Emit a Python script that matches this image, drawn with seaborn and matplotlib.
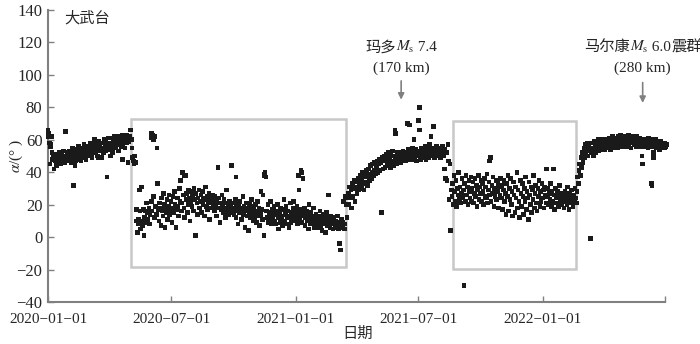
import numpy as np
import pandas as pd
import matplotlib
matplotlib.use("Agg")
import matplotlib.pyplot as plt
import matplotlib.dates as mdates
from matplotlib.patches import Rectangle
from matplotlib.offsetbox import TextArea, HPacker, AnnotationBbox
import seaborn as sns

# daily alpha values (degrees), segment by segment
seg_a_start = "2020-01-01"
seg_a = [66, 64, 58, 45, 56, 62, 52, 48, 50, 42, 49, 47, 51, 44, 50, 48, 46, 52, 49, 45, 51, 48, 47, 53, 50, 46, 65, 49, 52, 48, 50,
         47, 53, 49, 46, 51, 55, 48, 32, 52, 50, 47, 54, 49, 51, 56, 48, 53, 50, 47, 55, 52, 49, 57, 51, 54, 48, 53, 56, 50,
         55, 52, 58, 51, 54, 49, 57, 53, 56, 60, 52, 55, 58, 50, 56, 59, 53, 57, 54, 49, 58, 55, 52, 60, 56, 53, 59, 37, 57, 61, 54,
         58, 55, 61, 57, 52, 60, 56, 62, 58, 55, 61, 57, 59, 53, 62, 58, 60, 56, 61, 63, 57, 59, 62, 55, 60, 58, 63, 46, 61, 59]

seg_b_start = "2020-05-01"
seg_b = [62, 66, 60, 55, 49, 47, 45, 50, 46, 10, 17, 3, 8, 11, 29, 16, 5, 31, 10, 7, 17, 1, 12, 16, 9, 21, 15, 11, 18, 8, 14,
         61, 22, 16, 63, 25, 12, 62, 19, 14, 55, 33, 17, 10, 21, 18, 7, 24, 16, 13, 27, 20, 6, 18, 15, 23, 11, 19, 26, 14, 17,
         22, 9, 18, 25, 15, 28, 20, 6, 17, 24, 19, 13, 30, 22, 35, 16, 21, 40, 26, 18, 12, 38, 23, 27, 15, 20, 29, 24, 10, 22, 28,
         19, 25, 16, 30, 23, 1, 27, 21, 14, 24, 29, 18, 22, 26, 15, 28, 20, 24, 13, 23, 31, 19, 25, 17, 22, 27, 11, 21, 24, 18, 26,
         20, 23, 16, 25, 19, 13, 22, 43, 18, 24, 9, 21, 17, 26, 20, 15, 23, 18, 12, 21, 29, 17, 19, 14, 22, 16, 20, 44, 18, 15,
         21, 14, 17, 23, 12, 19, 16, 8, 20, 15, 22, 18, 11, 17, 25, 14, 19, 6, 16, 21, 13, 18, 4, 15, 20, 12, 17, 23, 14, 10, 19,
         16, 12, 20, 9, 15, 22, 13, 18, 7, 14, 28, 17, 11, 26, 1, 38, 40, 37, 16, 12, 20, 9, 15, 13, 22, 8, 17, 11, 14, 19,
         10, 16, 8, 14, 20, 12, 5, 15, 9, 18, 11, 13, 7, 17, 23, 10, 14, 19, 8, 12, 16, 6, 13, 21, 9, 15, 11, 18, 22, 14, 10,
         16, 12, 19, 8, 14, 29, 11, 17, 41, 9, 15, 36, 13, 18, 7, 12, 16, 10, 14, 5, 20, 11, 8, 15, 13, 9, 18, 6, 12, 10, 14,
         8, 11, 6, 13, 9, 16, 7, 12, 4, 10, 14, 8, 11, 3, 9, 15, 7, 12, 26, 10, 6, 13, 8, 11, 5, 9, 12, 7,
         10, 6, 8, 13, 5, 9, -4, -8, 7, 11, 6, 9, 22, 5, 8, 25, 20, 12, 24]

seg_c_start = "2021-03-20"
seg_c = [27, 20, 31, 24, 29, 18, 33, 25, 30, 35, 22, 31,
         34, 27, 36, 29, 33, 38, 30, 36, 31, 40, 33, 29, 39, 34, 37, 41, 32, 38, 42, 35, 39, 44, 36, 40, 45, 38, 41, 46, 39, 43,
         44, 47, 40, 45, 48, 41, 46, 15, 49, 42, 47, 50, 43, 48, 51, 44, 46, 52, 45, 49, 43, 51, 47, 53, 46, 44, 50, 66, 48, 45, 52,
         48, 51, 47, 49, 52, 46, 50, 48, 53, 49, 51, 47, 50, 52, 48, 54, 50, 69, 49, 53, 51, 48, 55, 50, 52, 49, 54, 51, 47, 53,
         50, 72, 80, 52, 48, 55, 51, 49, 53, 50, 56, 52, 48, 54, 51, 53, 49, 57, 52, 50, 55, 51, 53, 68, 49, 54, 52, 56, 50, 53, 51,
         55, 52, 49, 54, 51, 56, 53, 50, 42, 54, 36, 52, 35, 57, 47, 23, 45, 4, 29]

seg_d_start = "2021-08-20"
seg_d = [25, 33, 20, 38, 28, 22, 35, 19, 30, 26, 40, 23,
         31, 21, 27, 36, 24, 29, -30, 33, 22, 38, 26, 31, 20, 35, 28, 24, 37, 22, 30, 34, 21, 27, 36, 25, 32, 19, 29, 38, 23, 31,
         27, 35, 22, 33, 28, 20, 36, 25, 31, 24, 39, 21, 29, 34, 26, 49, 22, 32, 27, 37, 19, 30, 25, 35, 23, 28, 33, 18, 31, 26, 36,
         24, 32, 17, 29, 35, 22, 27, 14, 33, 25, 38, 16, 30, 23, 36, 20, 28, 13, 34, 26, 15, 31, 24, 40, 18, 29, 22, 12, 35, 27,
         19, 33, 25, 14, 30, 22, 37, 17, 28, 24, 11, 34, 26, 20, 31, 15, 29, 23, 38, 18, 27, 32, 21, 16, 30, 25, 35, 19, 28, 22, 33,
         24, 29, 18, 31, 26, 21, 42, 25, 30, 20, 27, 23, 33, 19, 28, 22, 42, 26, 17, 30, 24, 21, 28, 25, 19, 32, 23, 27, 20, 26, 22,
         25, 18, 28, 22, 26, 20, 31, 24, 17, 27, 23, 21, 29, 25, 19, 26, 22, 30, 24, 21]

seg_e_start = "2022-02-21"
seg_e = [28, 37, 33, 41, 45, 38, 49, 43,
         52, 46, 55, 49, 57, 51, 54, 58, 50, 56, 53, 55, -1, 52, 58, 55, 50, 59, 54, 57, 52, 58, 55, 60, 53, 57, 59, 54, 58, 55, 60,
         56, 58, 54, 60, 57, 55, 59, 56, 61, 58, 54, 60, 57, 62, 55, 59, 57, 61, 56, 58, 60, 55, 62, 58, 57, 63, 59, 56, 60, 58,
         61, 57, 59, 62, 56, 60, 58, 63, 57, 61, 59, 55, 62, 58, 60, 57, 61, 59, 56, 62, 58, 60, 57, 59, 61, 56, 58, 60, 45, 57, 59,
         58, 56, 60, 57, 59, 55, 61, 58, 56, 60, 33, 57, 59, 49, 56, 58, 60, 55, 57, 59, 56, 58, 54, 57, 59, 55, 58, 56, 57, 55,
         58, 56, 57]

# second points on some days
extra_dates = ["2020-01-02", "2020-01-05", "2020-02-10", "2020-03-15", "2020-04-02", "2020-04-20",
               "2020-06-02", "2020-06-05", "2020-10-05", "2020-07-21", "2020-11-15", "2021-01-05", "2021-01-10",
               "2021-05-29", "2021-06-15", "2021-07-03", "2021-07-20", "2021-06-25",
               "2021-10-15", "2022-03-13", "2022-05-28", "2022-06-12", "2022-06-14"]
extra_vals = [62, 57, 44, 49, 50, 48,
              64, 60, 37, 38, 39, 38, 40,
              64, 70, 66, 62, 60,
              47, -1, 50, 32, 52]

# highlighted periods (start, end, bottom, top)
box_1 = ("2020-05-02", "2021-03-17", -18.5, 72.5)
box_2 = ("2021-08-21", "2022-02-20", -19.5, 71.5)

# event date, first line parts, second line, arrow from / to
events = [("2021-06-06", ["玛多", "$M_{\\rm s}$", " 7.4"], "(170 km)", 98, 83),
          ("2022-05-29", ["马尔康", "$M_{\\rm s}$", " 6.0", "震群"], "(280 km)", 97, 81)]

xtick_dates = ["2020-01-01", "2020-07-01", "2021-01-01", "2021-07-01", "2022-01-01", "2022-07-01"]
xtick_labels = ["2020\u221201\u221201", "2020\u221207\u221201", "2021\u221201\u221201",
                "2021\u221207\u221201", "2022\u221201\u221201", ""]

frames = []
for start, vals in [(seg_a_start, seg_a), (seg_b_start, seg_b), (seg_c_start, seg_c),
                    (seg_d_start, seg_d), (seg_e_start, seg_e)]:
    frames.append(pd.DataFrame({"date": pd.date_range(start, periods=len(vals), freq="D"), "alpha": vals}))
frames.append(pd.DataFrame({"date": pd.to_datetime(extra_dates), "alpha": extra_vals}))
df = pd.concat(frames, ignore_index=True)

sns.set_style("ticks")
plt.rcParams["font.family"] = ["Liberation Serif", "Noto Sans CJK SC"]
plt.rcParams["mathtext.fontset"] = "stix"

fig = plt.figure(figsize=(7, 3.44), dpi=100)
ax = fig.add_axes([48 / 700, 42 / 344, 617 / 700, 292 / 344])

sns.scatterplot(data=df, x="date", y="alpha", marker="s", s=11, color="#1a1a1a",
                edgecolor="none", linewidth=0, ax=ax, legend=False, clip_on=False, zorder=3)

grey = "#808080"
for b in (box_1, box_2):
    x0 = mdates.date2num(pd.Timestamp(b[0]))
    x1 = mdates.date2num(pd.Timestamp(b[1]))
    ax.add_patch(Rectangle((x0, b[2]), x1 - x0, b[3] - b[2], fill=False,
                           edgecolor="#c8c8c8", lw=1.8, zorder=2))

for d, parts, line2, y_from, y_to in events:
    xd = pd.Timestamp(d)
    ax.annotate("", xy=(xd, y_to), xytext=(xd, y_from),
                arrowprops=dict(arrowstyle="-|>", color=grey, lw=1.2, mutation_scale=9),
                annotation_clip=False)
    row = HPacker(children=[TextArea(p, textprops=dict(fontsize=11)) for p in parts],
                  align="baseline", pad=0, sep=0)
    ab = AnnotationBbox(row, (xd, 117), frameon=False, box_alignment=(0.5, 0.5),
                        annotation_clip=False, pad=0)
    ax.add_artist(ab)
    ax.text(xd, 104, line2, ha="center", va="center", fontsize=11, clip_on=False)

ax.set_xlim(pd.Timestamp("2020-01-01"), pd.Timestamp("2022-07-01"))
ax.set_ylim(-40, 140)
ax.set_yticks(range(-40, 141, 20))
ax.set_xticks(pd.to_datetime(xtick_dates))
ax.set_xticklabels(xtick_labels)

for s in ["top", "right"]:
    ax.spines[s].set_visible(False)
for s in ["left", "bottom"]:
    ax.spines[s].set_color(grey)
    ax.spines[s].set_linewidth(1.5)
ax.tick_params(direction="in", length=4, width=1, color=grey)
ax.tick_params(axis="x", labelsize=11, pad=8)
ax.tick_params(axis="y", labelsize=12, pad=4)

ax.set_xlabel("日期", fontsize=11)
ax.set_ylabel("$\\alpha$/(° )", fontsize=11)
ax.xaxis.set_label_coords(0.502, -0.085)
ax.yaxis.set_label_coords(-0.038, 0.5)
ax.text(0.027, 0.97, "大武台", transform=ax.transAxes, fontsize=11, va="center", ha="left")

fig.savefig("out.png", dpi=100)
